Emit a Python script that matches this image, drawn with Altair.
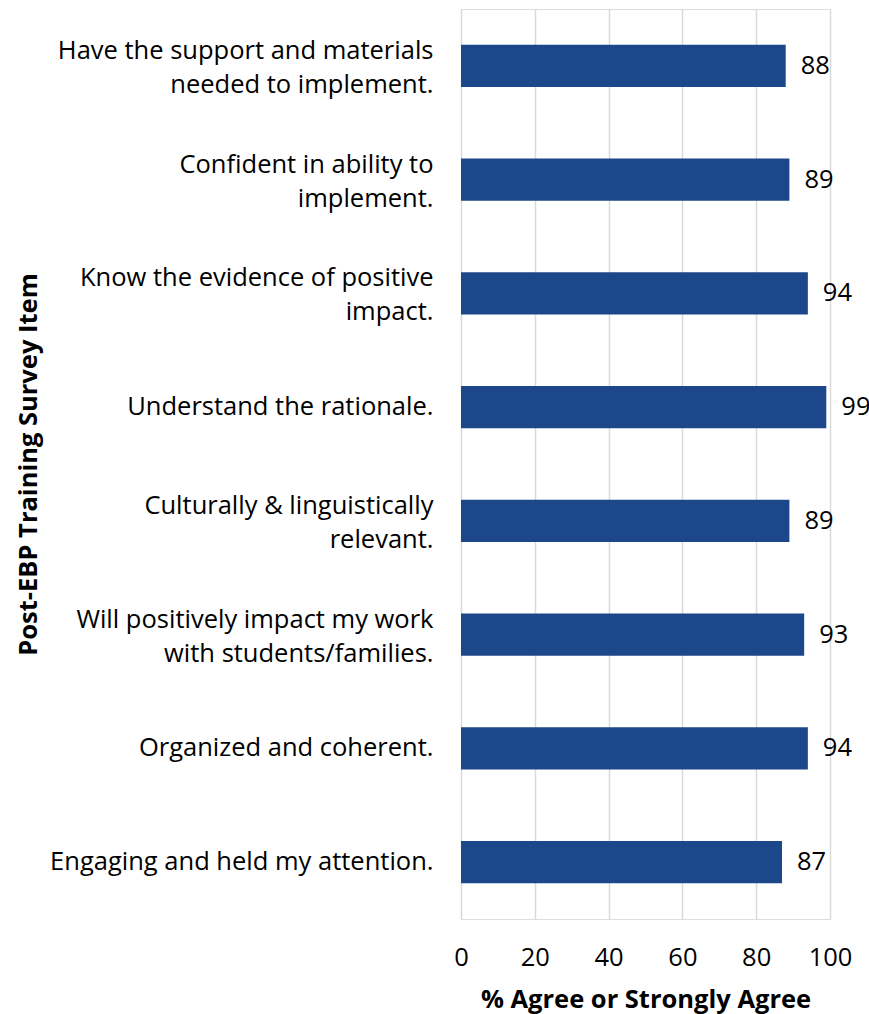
import altair as alt
import pandas as pd

items = [
    "Have the support and materials|needed to implement.",
    "Confident in ability to|implement.",
    "Know the evidence of positive|impact.",
    "Understand the rationale.",
    "Culturally & linguistically|relevant.",
    "Will positively impact my work|with students/families.",
    "Organized and coherent.",
    "Engaging and held my attention.",
]
values = [88, 89, 94, 99, 89, 93, 94, 87]
x_ticks = [0, 20, 40, 60, 80, 100]

df = pd.DataFrame({"item": items, "value": values})

FONT = "Open Sans"
BLUE = "#1C478A"
FS = 25.5
LH = 34

base = alt.Chart(df).encode(
    y=alt.Y(
        "item:N",
        sort=items,
        scale=alt.Scale(paddingInner=0.63, paddingOuter=0.315),
        axis=alt.Axis(
            title="Post-EBP Training Survey Item",
            labelExpr="split(datum.label, '|')",
            labelFontSize=FS,
            labelLineHeight=LH,
            labelPadding=28,
            labelOffset={
                "condition": {"test": "indexof(datum.value, '|') >= 0", "value": -LH / 2 + 2},
                "value": 0,
            },
            labelColor="#000000",
            labelFont=FONT,
            labelLimit=500,
            ticks=False,
            domain=False,
            titleFont=FONT,
            titleFontSize=FS,
            titleFontWeight="bold",
            titleColor="#000000",
            titleX=-433,
            titleY=455,
            titleAngle=-90,
            titleBaseline="middle",
            titleAlign="center",
        ),
    ),
)

bars = base.mark_bar(color=BLUE).encode(
    x=alt.X(
        "value:Q",
        scale=alt.Scale(domain=[0, 100], nice=False),
        axis=alt.Axis(
            values=x_ticks,
            title="% Agree or Strongly Agree",
            labelFontSize=FS,
            labelFont=FONT,
            labelColor="#000000",
            labelPadding=26,
            labelFlush=False,
            ticks=False,
            domain=False,
            grid=True,
            gridColor="#D9D9D9",
            gridWidth=1.5,
            titleFont=FONT,
            titleFontSize=FS,
            titleFontWeight="bold",
            titleColor="#000000",
            titleY=88,
            titleBaseline="alphabetic",
        ),
    ),
)

labels = base.mark_text(
    align="left", baseline="middle", dx=15, fontSize=FS, font=FONT, color="#000000"
).encode(x="value:Q", text="value:Q")

chart = (
    alt.layer(bars, labels)
    .properties(
        width=369,
        height=910,
        autosize="none",
        padding={"left": 461, "top": 9, "right": 39, "bottom": 95},
    )
    .configure_view(strokeWidth=0, stroke="transparent")
    .configure(background="white")
)

chart.save("out.html", embed_options={"renderer": "svg", "actions": False})
